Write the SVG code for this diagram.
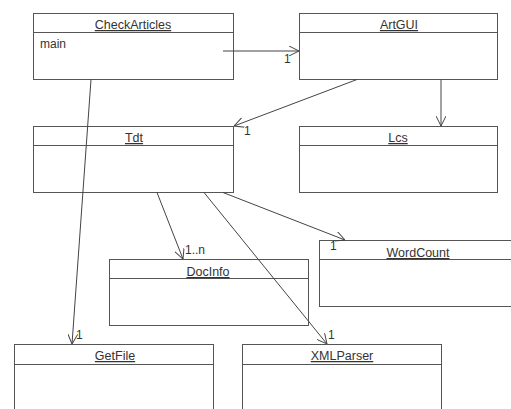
<svg xmlns="http://www.w3.org/2000/svg" width="511" height="409" viewBox="0 0 511 409">
<style>
.box{fill:#fff;stroke:#555;stroke-width:1}
.sep{stroke:#555;stroke-width:1}
.t{font-family:"Liberation Sans",Arial,sans-serif;font-size:12.5px;fill:#333;text-anchor:middle;text-decoration:underline}
.l{font-family:"Liberation Sans",Arial,sans-serif;font-size:12px;fill:#333}
.c{stroke:#444;stroke-width:1;fill:none;marker-end:url(#arr)}
</style>
<defs>
<marker id="arr" viewBox="0 0 10 10" refX="10" refY="5" markerWidth="10" markerHeight="10" markerUnits="userSpaceOnUse" orient="auto">
<path d="M0,0 L10,5 L0,10" fill="none" stroke="#444" stroke-width="1"/>
</marker>
</defs>
<rect width="511" height="409" fill="#fff"/>
<g id="CheckArticles">
<rect class="box" x="33.5" y="13.5" width="200" height="66"/>
<line class="sep" x1="33.5" y1="32.5" x2="233.5" y2="32.5"/>
<text class="t" x="133" y="29">CheckArticles</text>
<text class="l" x="40" y="48">main</text>
</g>
<g id="ArtGUI">
<rect class="box" x="299.5" y="13.5" width="198" height="66"/>
<line class="sep" x1="299.5" y1="32.5" x2="497.5" y2="32.5"/>
<text class="t" x="399" y="29">ArtGUI</text>
</g>
<g id="Lcs">
<rect class="box" x="299.5" y="126.5" width="198" height="66"/>
<line class="sep" x1="299.5" y1="145.5" x2="497.5" y2="145.5"/>
<text class="t" x="398" y="142">Lcs</text>
</g>
<g id="Tdt">
<rect class="box" x="33.5" y="126.5" width="200" height="66"/>
<line class="sep" x1="33.5" y1="145.5" x2="233.5" y2="145.5"/>
<text class="t" x="134" y="142">Tdt</text>
</g>
<g id="DocInfo">
<rect class="box" x="109.5" y="259.5" width="199" height="66"/>
<line class="sep" x1="109.5" y1="278.5" x2="308.5" y2="278.5"/>
<text class="t" x="208" y="276">DocInfo</text>
</g>
<g id="WordCount">
<rect class="box" x="319.5" y="240.5" width="200" height="66"/>
<line class="sep" x1="319.5" y1="259.5" x2="519.5" y2="259.5"/>
<text class="t" x="418" y="257">WordCount</text>
</g>
<g id="GetFile">
<rect class="box" x="14.5" y="344.5" width="199" height="80"/>
<line class="sep" x1="14.5" y1="364.5" x2="213.5" y2="364.5"/>
<text class="t" x="115" y="360">GetFile</text>
</g>
<g id="XMLParser">
<rect class="box" x="242.5" y="344.5" width="199" height="80"/>
<line class="sep" x1="242.5" y1="364.5" x2="441.5" y2="364.5"/>
<text class="t" x="342" y="360">XMLParser</text>
</g>
<g id="connectors">
<line class="c" x1="223" y1="51" x2="299" y2="51"/>
<text class="l" x="284" y="63">1</text>
<line class="c" x1="441" y1="79.5" x2="441" y2="126"/>
<line class="c" x1="357" y1="79.5" x2="234" y2="126"/>
<text class="l" x="244" y="135">1</text>
<line class="c" x1="91" y1="79.5" x2="72" y2="344"/>
<text class="l" x="76" y="339">1</text>
<line class="c" x1="157" y1="192.5" x2="183" y2="259"/>
<text class="l" x="185" y="254">1..n</text>
<line class="c" x1="204" y1="192.5" x2="327" y2="344"/>
<text class="l" x="328" y="339">1</text>
<line class="c" x1="223" y1="192.5" x2="345" y2="240"/>
<text class="l" x="330" y="250">1</text>
</g>
</svg>
